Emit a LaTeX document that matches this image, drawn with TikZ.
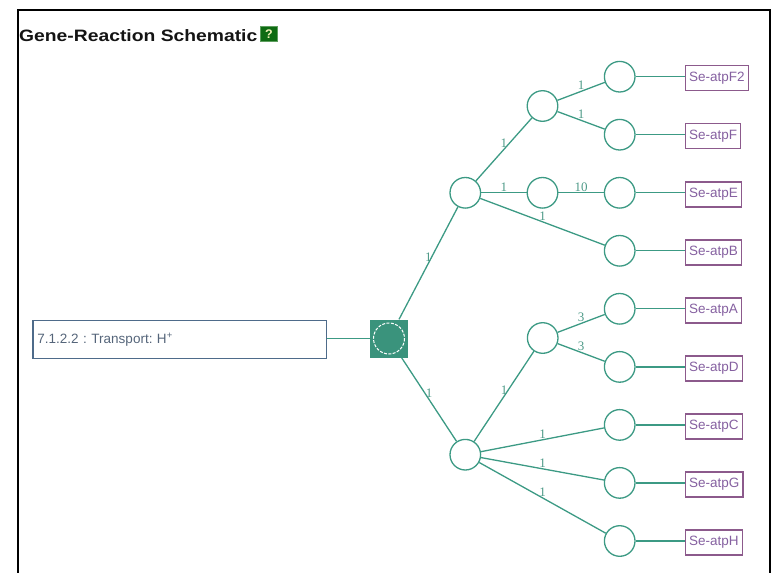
\documentclass[tikz,border=0pt]{standalone}
\usepackage{graphicx}
\usepackage{fontspec}
\setmainfont{Liberation Sans}
\newfontfamily\lblfont{Liberation Serif}
\frenchspacing

\definecolor{lnk}{HTML}{3C9A84}
\definecolor{lbltx}{HTML}{4E9A88}
\definecolor{hubfill}{HTML}{3A937C}
\definecolor{genebd}{HTML}{8C5A8C}
\definecolor{genetx}{HTML}{8560A0}
\definecolor{rxnbd}{HTML}{4E6B8A}
\definecolor{rxntx}{HTML}{55657A}
\definecolor{helpbg}{HTML}{0E6B12}
\definecolor{helpbd}{HTML}{5E9E5E}
\definecolor{helptx}{HTML}{F2F2B8}

\begin{document}
\begin{tikzpicture}[x=1pt,y=-1pt,
  link/.style={draw=lnk,line width=1.3pt},
  hub/.style={circle,draw=lnk,line width=1.3pt,fill=white,minimum size=30.6pt,inner sep=0pt},
  gene/.style={draw=genebd,line width=1.4pt,text=genetx,font=\fontsize{13.5}{15}\selectfont,
    anchor=west,inner xsep=3.5pt,inner ysep=0pt,minimum height=25pt},
  lbl/.style={font=\lblfont\fontsize{13}{14}\selectfont,text=lbltx,inner sep=0pt,yshift=6pt},
  rxnbox/.style={draw=rxnbd,line width=1.3pt,text=rxntx,font=\fontsize{13.5}{15}\selectfont,
    anchor=west,inner xsep=4.5pt,inner ysep=0pt,text width=284.4pt,align=left,minimum height=38.3pt},
  enzyme/.style={rectangle,fill=hubfill,minimum size=38pt,inner sep=0pt},
  helpbox/.style={rectangle,fill=helpbg,draw=helpbd,line width=0.8pt,text=helptx,
    font=\bfseries\fontsize{12.5}{13}\selectfont,minimum width=17pt,minimum height=15.5pt,inner sep=0pt}
]
\useasboundingbox (0,0) rectangle (772,573);

% panel frame
\draw[line width=2pt] (18.2,585) -- (18.2,9.8) -- (770,9.8) -- (770,585);

% heading
\node[anchor=base west,inner sep=0pt,text=black!92] (title) at (19,41)
  {\fontsize{16.5}{18}\selectfont\bfseries\scalebox{1.17}[1]{Gene-Reaction Schematic}};
\node[helpbox] (help) at (269,34) {?};

% reaction and enzyme complex
\node[rxnbox] (rxn) at (32.3,339.5) {7.1.2.2 : Transport: H\textsuperscript{+}};
\node[enzyme] (rx) at (389,338.5) {};
\draw[white,line width=1pt,dash pattern=on 3pt off 1.4pt] (rx.center) circle[radius=15.5];
\draw[link] (rx.west -| rxn.east) -- (rx.west);

% intermediate subunit groups
\node[hub] (n1) at (465.3,192.8) {};
\node[hub] (n2) at (465.3,454.7) {};
\node[hub] (n11) at (542.5,106) {};
\node[hub] (n12) at (542.5,192.8) {};
\node[hub] (n21) at (542.7,338) {};

% leaf subunits and their genes
\foreach \g/\y in {F2/76.7,F/134.7,E/192.8,B/250.8,A/308.8,D/366.9,C/424.9,G/482.9,H/541.0} {
  \node[hub] (l\g) at (619.7,\y) {};
  \node[gene] (g\g) at (685,\y+1.5) {Se-atp\g};
  \draw[link] (l\g.east) -- (l\g.east -| g\g.west);
}

% connectors
\draw[link] (rx) -- (n1);
\draw[link] (rx) -- (n2);
\draw[link] (n1) -- (n11);
\draw[link] (n1) -- (n12);
\draw[link] (n1) -- (lB);
\draw[link] (n11) -- (lF2);
\draw[link] (n11) -- (lF);
\draw[link] (n12) -- (lE);
\draw[link] (n2) -- (n21);
\draw[link] (n21) -- (lA);
\draw[link] (n21) -- (lD);
\draw[link] (n2) -- (lC);
\draw[link] (n2) -- (lG);
\draw[link] (n2) -- (lH);

% stoichiometry labels
\path (rx) -- node[lbl] (s1) {1} (n1);
\path (rx) -- node[lbl] (s2) {1} (n2);
\path (n1) -- node[lbl] (s3) {1} (n11);
\path (n1) -- node[lbl] (s4) {1} (n12);
\path (n1) -- node[lbl] (s5) {1} (lB);
\path (n11) -- node[lbl] (s6) {1} (lF2);
\path (n11) -- node[lbl] (s7) {1} (lF);
\path (n12) -- node[lbl] (s8) {10} (lE);
\path (n2) -- node[lbl] (s9) {1} (n21);
\path (n21) -- node[lbl] (s10) {3} (lA);
\path (n21) -- node[lbl] (s11) {3} (lD);
\path (n2) -- node[lbl] (s12) {1} (lC);
\path (n2) -- node[lbl] (s13) {1} (lG);
\path (n2) -- node[lbl] (s14) {1} (lH);
\end{tikzpicture}
\end{document}
